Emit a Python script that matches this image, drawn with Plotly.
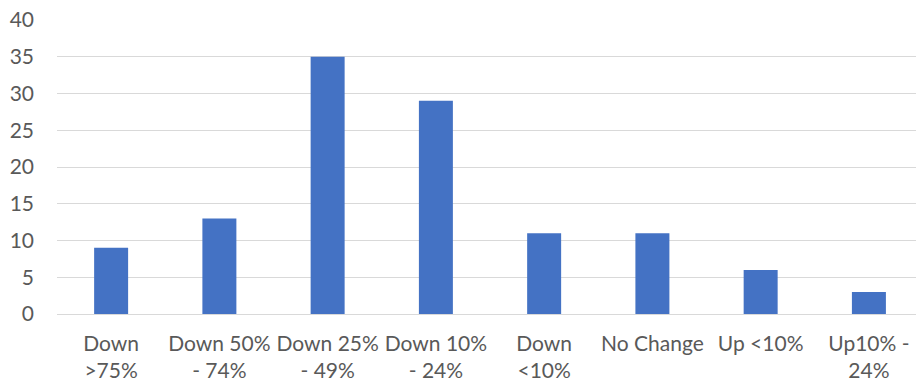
import plotly.graph_objects as go

categories = ["Down<br>&gt;75%", "Down 50%<br>- 74%", "Down 25%<br>- 49%", "Down 10%<br>- 24%",
              "Down<br>&lt;10%", "No Change", "Up &lt;10%", "Up10% -<br>24%"]
values = [9, 13, 35, 29, 11, 11, 6, 3]
y_ticks = [0, 5, 10, 15, 20, 25, 30, 35, 40]

fig = go.Figure(go.Bar(
    x=list(range(len(categories))), y=values,
    marker=dict(color="#4472C4", line=dict(width=0)),
    width=0.314,
))

font = dict(family="Lato, Carlito, Calibri, sans-serif", size=21, color="#595959")

fig.update_layout(
    width=916, height=385,
    margin=dict(l=57, r=0, t=20, b=71),
    paper_bgcolor="white", plot_bgcolor="white",
    showlegend=False,
    font=font,
    xaxis=dict(
        tickmode="array", tickvals=list(range(len(categories))), ticktext=categories,
        range=[-0.5, 7.435], showgrid=False, zeroline=False, showline=False,
        tickfont=font, ticks="", tickangle=0, ticklabelstandoff=15,
    ),
    yaxis=dict(
        range=[0, 40], tickvals=y_ticks, showgrid=True, gridcolor="#D9D9D9", gridwidth=1,
        zeroline=True, zerolinecolor="#D9D9D9", zerolinewidth=1, showline=False,
        tickfont=font, ticks="", ticklabelstandoff=22,
    ),
)

fig.write_html("out.html")
